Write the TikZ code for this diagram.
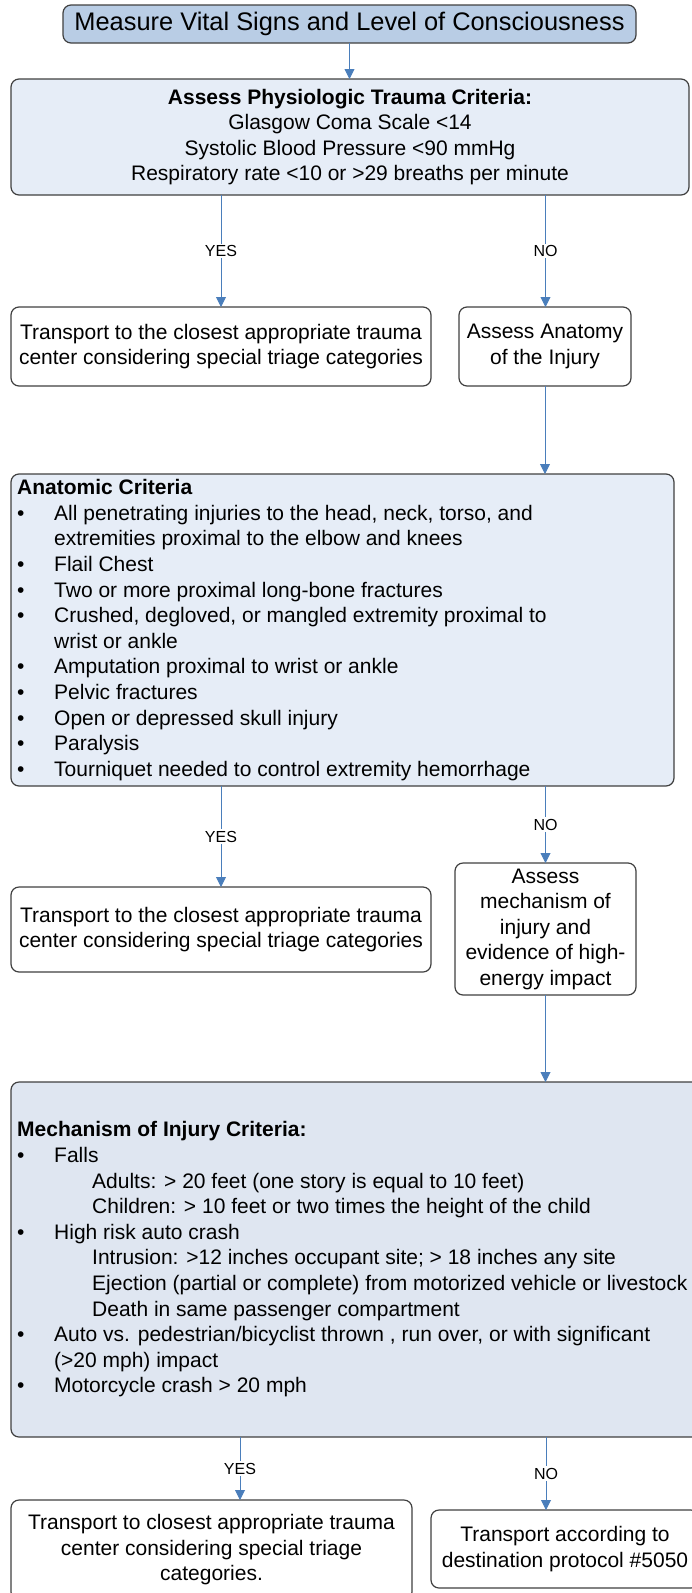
\documentclass[tikz,border=0pt]{standalone}
\usepackage{fontspec}
\setmainfont{Liberation Sans}
\usetikzlibrary{arrows.meta}
\definecolor{topfill}{HTML}{B9CDE5}
\definecolor{lightfill}{HTML}{E6EDF7}
\definecolor{mechfill}{HTML}{DFE6F1}
\definecolor{edgegray}{HTML}{404040}
\definecolor{arrowblue}{HTML}{4A7EBB}
\newcommand{\bul}{\makebox[37pt][l]{\textbullet}}
\newcommand{\indA}{\hspace*{37pt}}
\newcommand{\indB}{\hspace*{75pt}}
\tikzset{
  box/.style={draw=edgegray, line width=1.2pt, rounded corners=8pt, inner sep=0pt, outer sep=0pt, anchor=north west,
    font=\fontsize{21}{25.5}\selectfont, align=center},
  listtext/.style={anchor=west, align=left, inner sep=0pt, font=\fontsize{21}{25.6}\selectfont},
  flow/.style={draw=arrowblue, line width=0.9pt, -{Triangle[width=10pt,length=10pt]}},
  lab/.style={fill=white, font=\fontsize{16}{18}\selectfont, inner sep=1.5pt, text=black},
}
\begin{document}
\begin{tikzpicture}[x=1pt,y=-1pt]
\useasboundingbox (0,0) rectangle (691,1593);
\coordinate (xL) at (221,0);
\coordinate (xR) at (545.5,0);
\coordinate (xL3) at (240,0);
\coordinate (xR3) at (546,0);

\node[box, fill=topfill, minimum width=573pt, minimum height=38pt, font=\fontsize{25.4}{28}\selectfont] (b1) at (63,5)
  {Measure Vital Signs and Level of Consciousness};

\node[box, fill=lightfill, minimum width=678pt, minimum height=116pt] (b2) at (11,79)
  {\textbf{Assess Physiologic Trauma Criteria:}\\Glasgow Coma Scale <14\\Systolic Blood Pressure <90 mmHg\\Respiratory rate <10 or >29 breaths per minute};

\node[box, fill=white, minimum width=420pt, minimum height=79pt] (b3) at (11,307)
  {Transport to the closest appropriate trauma\\center considering special triage categories};

\node[box, fill=white, minimum width=172pt, minimum height=79pt] (b4) at (459,307)
  {Assess Anatomy\\of the Injury};

\node[box, fill=lightfill, minimum width=663pt, minimum height=312pt] (b5) at (11,474) {};
\node[listtext] (t5) at ([xshift=6pt]b5.west)
  {\textbf{Anatomic Criteria}\\
   \bul All penetrating injuries to the head, neck, torso, and\\
   \indA extremities proximal to the elbow and knees\\
   \bul Flail Chest\\
   \bul Two or more proximal long-bone fractures\\
   \bul Crushed, degloved, or mangled extremity proximal to\\
   \indA wrist or ankle\\
   \bul Amputation proximal to wrist or ankle\\
   \bul Pelvic fractures\\
   \bul Open or depressed skull injury\\
   \bul Paralysis\\
   \bul Tourniquet needed to control extremity hemorrhage};

\node[box, fill=white, minimum width=420pt, minimum height=85pt] (b6) at (11,887)
  {Transport to the closest appropriate trauma\\center considering special triage categories};

\node[box, fill=white, minimum width=181pt, minimum height=132pt] (b7) at (455,863)
  {Assess\\mechanism of\\injury and\\evidence of high-\\energy impact};

\node[box, fill=mechfill, minimum width=689pt, minimum height=355pt] (b8) at (11,1082) {};
\node[listtext] (t8) at ([xshift=6pt]b8.west)
  {\textbf{Mechanism of Injury Criteria:}\\
   \bul Falls\\
   \indB Adults: > 20 feet (one story is equal to 10 feet)\\
   \indB Children: > 10 feet or two times the height of the child\\
   \bul High risk auto crash\\
   \indB Intrusion: >12 inches occupant site; > 18 inches any site\\
   \indB Ejection (partial or complete) from motorized vehicle or livestock\\
   \indB Death in same passenger compartment\\
   \bul Auto vs. pedestrian/bicyclist thrown , run over, or with significant\\
   \indA (>20 mph) impact\\
   \bul Motorcycle crash > 20 mph};

\node[box, fill=white, minimum width=401pt, minimum height=100pt] (b9) at (11,1500)
  {Transport to closest appropriate trauma\\center considering special triage\\categories.};

\node[box, fill=white, minimum width=268pt, minimum height=78pt] (b10) at (431,1510)
  {Transport according to\\destination protocol \#5050};

\draw[flow] (b1.south) -- (b1.south |- b2.north);
\draw[flow] (b2.south -| xL) -- node[lab] {YES} (b3.north -| xL);
\draw[flow] (b2.south -| xR) -- node[lab] {NO} (b4.north -| xR);
\draw[flow] (b4.south) -- (b4.south |- b5.north);
\draw[flow] (b5.south -| xL) -- node[lab] {YES} (b6.north -| xL);
\draw[flow] (b5.south -| xR) -- node[lab] {NO} (b7.north -| xR);
\draw[flow] (b7.south) -- (b7.south |- b8.north);
\draw[flow] (b8.south -| xL3) -- node[lab] {YES} (b9.north -| xL3);
\draw[flow] (b8.south -| xR3) -- node[lab] {NO} (b10.north -| xR3);
\end{tikzpicture}
\end{document}
